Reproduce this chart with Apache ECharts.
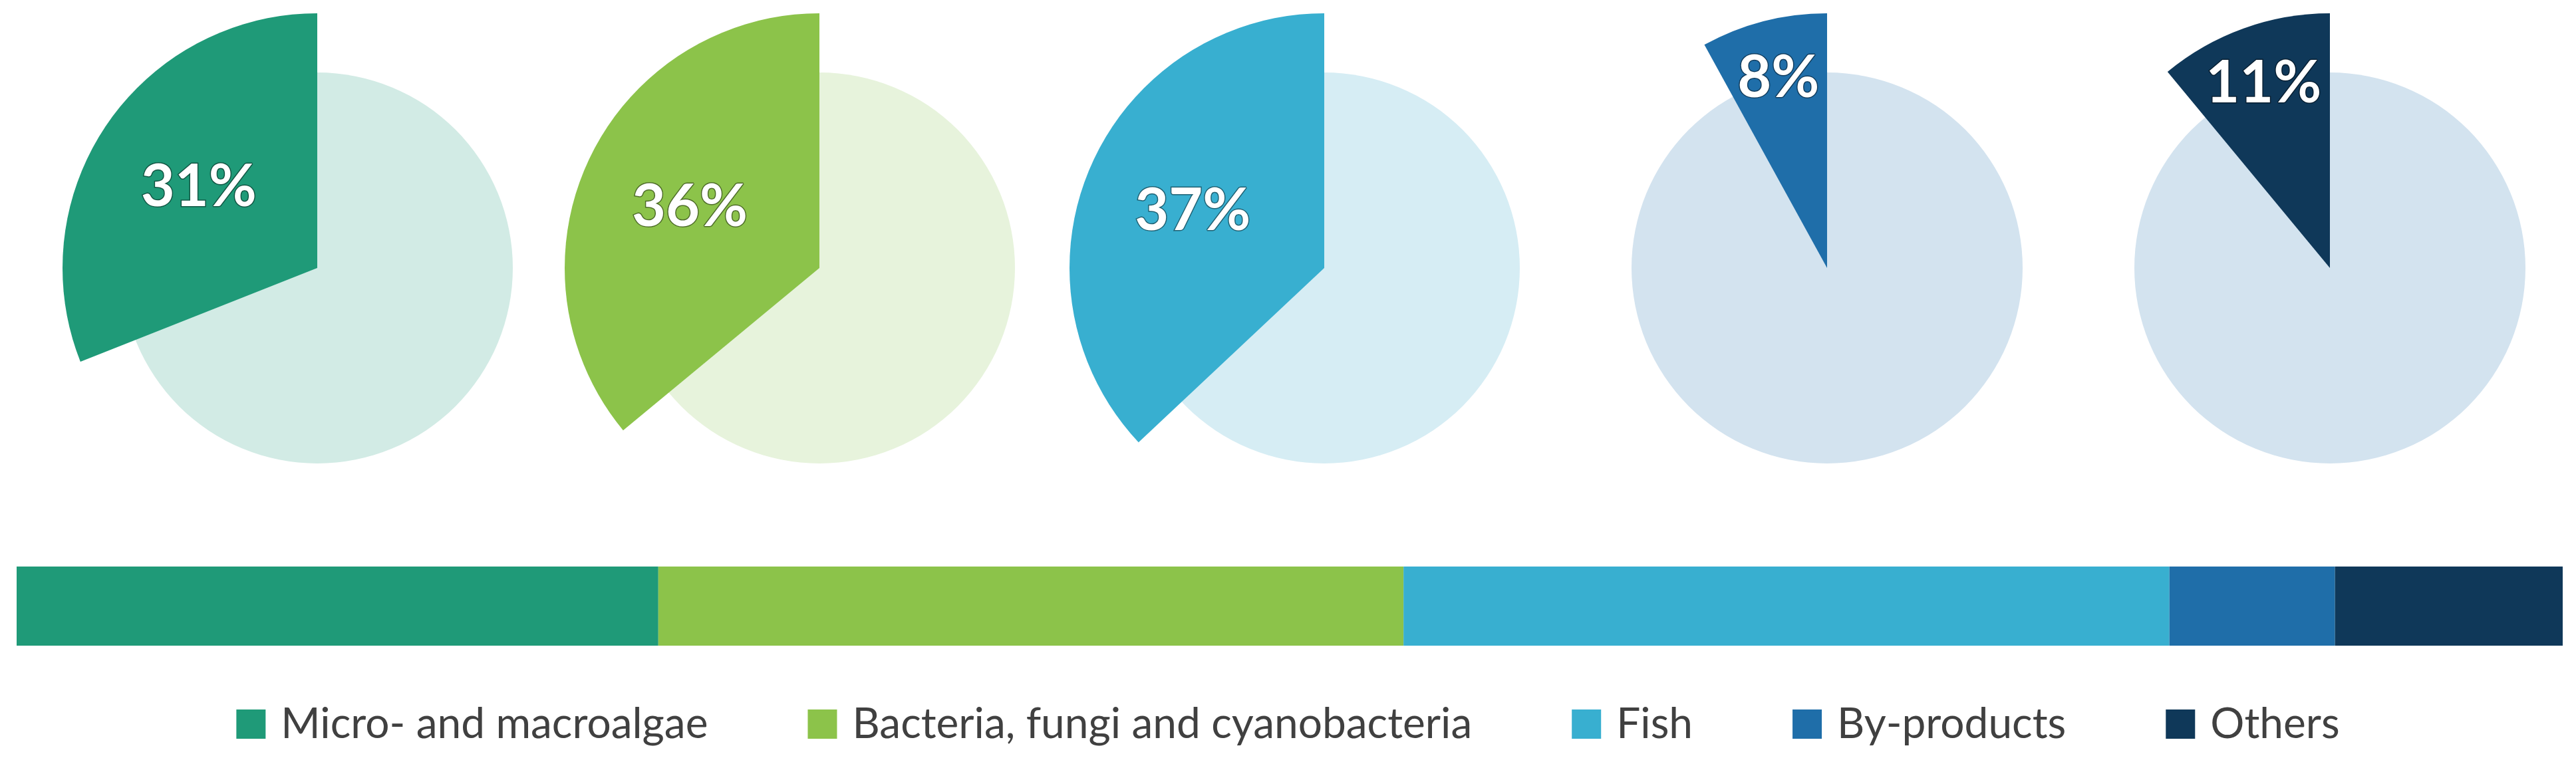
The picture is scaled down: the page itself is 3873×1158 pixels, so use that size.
<!DOCTYPE html>
<html>
<head>
<meta charset="utf-8">
<script src="https://cdn.jsdelivr.net/npm/echarts@6/dist/echarts.min.js"></script>
<style>html,body{margin:0;padding:0;background:#fff}#chart{width:3873px;height:1158px}</style>
</head>
<body>
<div id="chart"></div>
<script>
const categories = ["Micro- and macroalgae", "Bacteria, fungi and cyanobacteria", "Fish", "By-products", "Others"];
const shares = [31, 36, 37, 8, 11];
const colors = ["#1f9a78", "#8cc34a", "#38afd0", "#1f6ea9", "#0f3859"];
const lightColors = ["#d2ebe5", "#e7f3dc", "#d6edf4", "#d3e3ef", "#d3e3ef"];

const centersX = [477, 1232, 1991, 2747, 3503];
const centerY = 403;
const FONT = "Lato, 'Open Sans', sans-serif";

const total = shares.reduce((a, b) => a + b, 0);
const series = [];

categories.forEach((name, i) => {
  const center = [centersX[i], centerY];
  // light background disc
  series.push({
    type: "pie", silent: true, center, radius: [0, 294],
    startAngle: 90, clockwise: false, label: { show: false },
    data: [{ value: 1, itemStyle: { color: lightColors[i] } }]
  });
  // highlighted slice
  series.push({
    type: "pie", silent: true, center, radius: [0, 383],
    startAngle: 90, clockwise: false,
    label: { show: false }, labelLine: { show: false },
    data: [
      { value: shares[i], itemStyle: { color: colors[i] } },
      { value: 100 - shares[i], itemStyle: { color: "transparent" } }
    ]
  });
  // label ring
  const inner = shares[i] < 20 ? 200 : 42;
  series.push({
    type: "pie", silent: true, center, radius: [inner, 383],
    startAngle: 90, clockwise: false,
    itemStyle: { color: "transparent" },
    labelLine: { show: false },
    data: [
      { value: shares[i], label: { show: true, position: "inside", formatter: shares[i] + "%",
          color: "#fff", fontSize: 88, fontWeight: "bold", fontFamily: FONT,
          textBorderColor: "rgba(0,0,0,0.45)", textBorderWidth: 3 } },
      { value: 100 - shares[i], label: { show: false } }
    ]
  });
});

categories.forEach((name, i) => {
  series.push({
    type: "bar", name, stack: "total", barWidth: 119,
    xAxisIndex: 0, yAxisIndex: 0,
    itemStyle: { color: colors[i] },
    data: [shares[i]]
  });
});

const chart = echarts.init(document.getElementById("chart"));
chart.setOption({
  backgroundColor: "#fff",
  animation: false,
  grid: { left: 25, right: 20, top: 852, height: 119 },
  xAxis: { type: "value", min: 0, max: total, show: false },
  yAxis: { type: "category", data: ["all"], show: false },
  legend: {
    data: categories, top: 1052, left: "center",
    itemWidth: 44, itemHeight: 44, itemGap: 150,
    icon: "rect",
    textStyle: { fontSize: 64, color: "#404040", fontFamily: FONT, padding: [0, 0, 0, 18] }
  },
  series
});
</script>
</body>
</html>
